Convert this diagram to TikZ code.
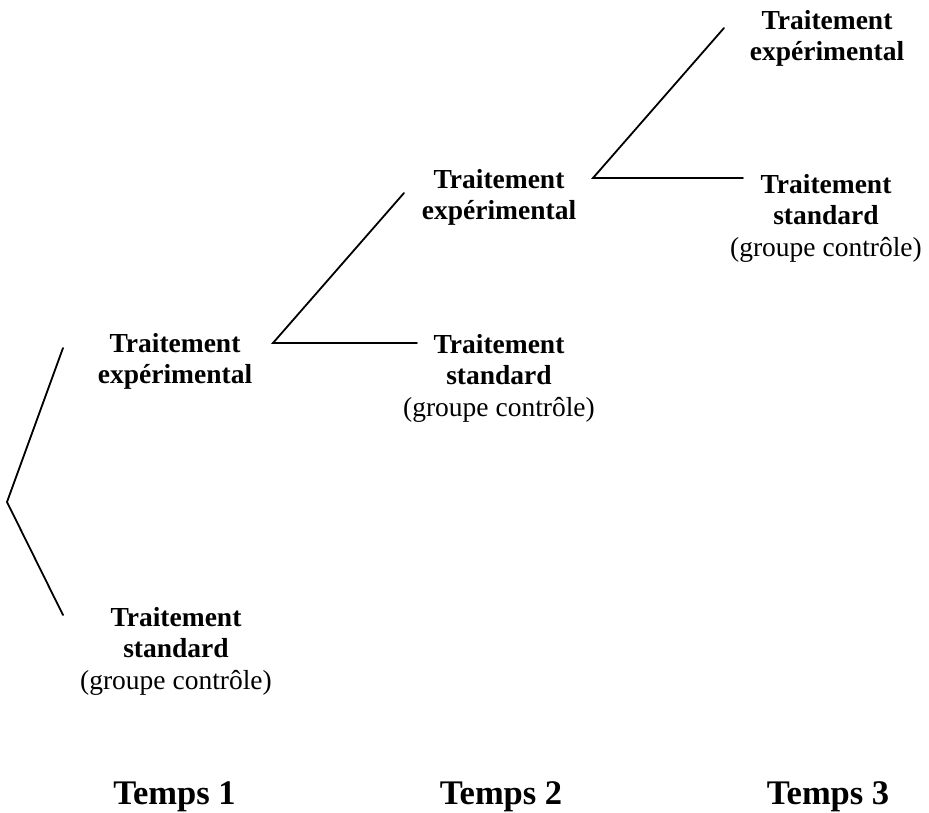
\documentclass[tikz,border=0pt]{standalone}
\usepackage{fontspec}
\setmainfont{Liberation Serif}
\begin{document}
\begin{tikzpicture}[x=1pt,y=-1pt,
  lab/.style={font=\fontsize{27.5}{31.5}\selectfont\bfseries, align=center, anchor=north, inner sep=0pt},
  tps/.style={font=\fontsize{34.5}{40}\selectfont\bfseries, anchor=base, inner sep=0pt},
  br/.style={line width=1.8pt, line cap=round, line join=miter}]
\useasboundingbox (0,0) rectangle (929,813);
% nodes
\node[lab] (l1e) at (175,333) {Traitement\\expérimental};
\node[lab] (l1s) at (176,607) {Traitement\\standard\\{\mdseries (groupe contrôle)}};
\node[lab] (l2e) at (499,169) {Traitement\\expérimental};
\node[lab] (l2s) at (499,334) {Traitement\\standard\\{\mdseries (groupe contrôle)}};
\node[lab] (l3e) at (827,10) {Traitement\\expérimental};
\node[lab] (l3s) at (826,174) {Traitement\\standard\\{\mdseries (groupe contrôle)}};
\node[tps] (t1) at (174.5,804) {Temps 1};
\node[tps] (t2) at (501,804) {Temps 2};
\node[tps] (t3) at (828,804) {Temps 3};
% connector points
\coordinate (v1) at (7,502);
\coordinate (a1) at (63,348);
\coordinate (b1) at (63,615);
\coordinate (v2) at (273,343);
\coordinate (a2) at (404,193);
\coordinate (b2) at (417,343);
\coordinate (v3) at (593,178);
\coordinate (a3) at (724,28);
\coordinate (b3) at (743,178);
% connectors
\draw[br] (a1) -- (v1) -- (b1);
\draw[br] (a2) -- (v2) -- (b2);
\draw[br] (a3) -- (v3) -- (b3);
\end{tikzpicture}
\end{document}
